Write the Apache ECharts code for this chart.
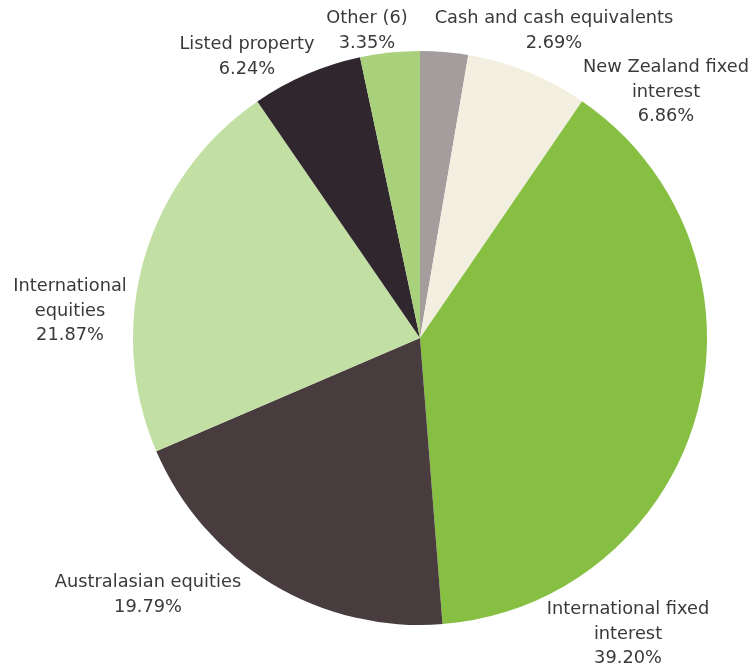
<!DOCTYPE html>
<html>
<head>
<meta charset="utf-8">
<script src="https://cdn.jsdelivr.net/npm/echarts@6/dist/echarts.min.js"></script>
<style>
html,body{margin:0;padding:0;background:#fff;}
#chart{width:755px;height:669px;}
</style>
</head>
<body>
<div id="chart"></div>
<script>
const categories = ["Cash and cash equivalents", "New Zealand fixed\ninterest", "International fixed\ninterest", "Australasian equities", "International\nequities", "Listed property", "Other (6)"];
const values = [2.69, 6.86, 39.20, 19.79, 21.87, 6.24, 3.35];
const colors = ["#a39d9e", "#f3efe0", "#86bf41", "#483c3e", "#c2dfa4", "#30262e", "#a9d07b"];
const labelPos = [[554, 31], [666, 92], [628, 634], [148, 595], [70, 311], [247, 57], [367, 31]];

const chart = echarts.init(document.getElementById('chart'));
chart.setOption({
  animation: false,
  series: [{
    type: 'pie',
    center: [420, 338],
    radius: [0, 287],
    startAngle: 90,
    clockwise: true,
    avoidLabelOverlap: false,
    data: categories.map((c, i) => ({ name: c, value: values[i], itemStyle: { color: colors[i] } })),
    itemStyle: { borderWidth: 0 },
    label: {
      show: true,
      position: 'inside',
      overflow: 'none',
      formatter: p => p.name + '\n' + p.value.toFixed(2) + '%',
      fontFamily: '"DejaVu Sans", sans-serif',
      fontSize: 17.8,
      lineHeight: 24.5,
      color: '#3a3a3a',
      align: 'center'
    },
    labelLine: { show: false },
    labelLayout: function (params) {
      const p = labelPos[params.dataIndex];
      return { x: p[0], y: p[1], align: 'center', verticalAlign: 'middle', hideOverlap: false };
    },
    emphasis: { disabled: true }
  }]
});
</script>
</body>
</html>
